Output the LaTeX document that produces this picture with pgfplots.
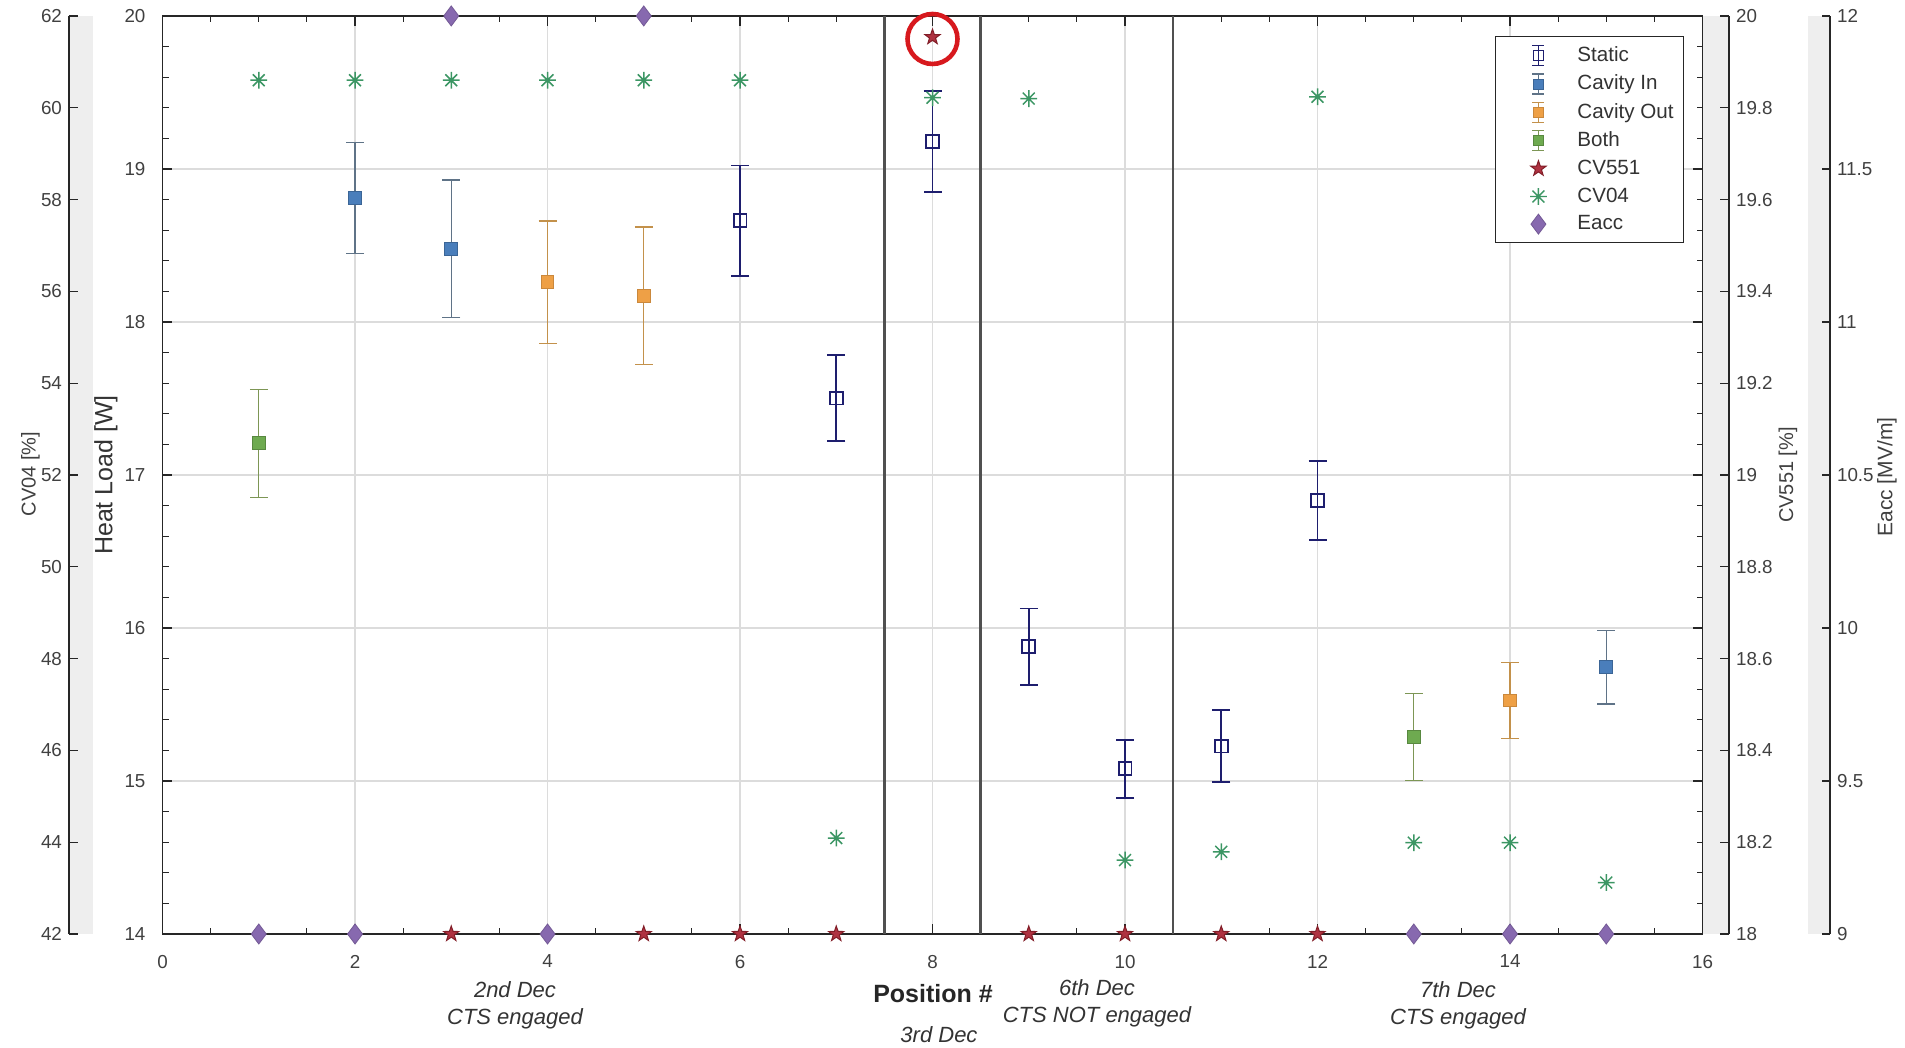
\documentclass[border=0pt]{standalone}
\usepackage{pgfplots}
\pgfplotsset{compat=1.18}
\usepackage{pgfplotstable}
\usepackage{fontspec}
\setmainfont{Liberation Sans}

\definecolor{cstatic}{RGB}{30,30,110}
\definecolor{cin}{RGB}{74,126,187}
\definecolor{cinE}{RGB}{95,115,135}
\definecolor{cout}{RGB}{238,160,70}
\definecolor{coutE}{RGB}{195,145,75}
\definecolor{cboth}{RGB}{110,170,80}
\definecolor{cbothE}{RGB}{125,150,85}
\definecolor{cvA}{RGB}{175,50,65}
\definecolor{cvAd}{RGB}{130,30,40}
\definecolor{cvB}{RGB}{60,150,100}
\definecolor{ceacc}{RGB}{135,105,175}
\definecolor{band}{RGB}{238,238,238}
\definecolor{gridc}{RGB}{220,220,220}
\definecolor{sepc}{RGB}{80,80,80}
\definecolor{circ}{RGB}{215,25,30}

\pgfdeclareplotmark{pentagram}{%
  \pgfpathmoveto{\pgfpointpolar{90}{\pgfplotmarksize}}%
  \pgfpathlineto{\pgfpointpolar{126}{0.4\pgfplotmarksize}}%
  \pgfpathlineto{\pgfpointpolar{162}{\pgfplotmarksize}}%
  \pgfpathlineto{\pgfpointpolar{198}{0.4\pgfplotmarksize}}%
  \pgfpathlineto{\pgfpointpolar{234}{\pgfplotmarksize}}%
  \pgfpathlineto{\pgfpointpolar{270}{0.4\pgfplotmarksize}}%
  \pgfpathlineto{\pgfpointpolar{306}{\pgfplotmarksize}}%
  \pgfpathlineto{\pgfpointpolar{342}{0.4\pgfplotmarksize}}%
  \pgfpathlineto{\pgfpointpolar{18}{\pgfplotmarksize}}%
  \pgfpathlineto{\pgfpointpolar{54}{0.4\pgfplotmarksize}}%
  \pgfpathclose
  \pgfusepathqfillstroke}
\pgfdeclareplotmark{ast8}{%
  \pgfpathmoveto{\pgfqpoint{0pt}{\pgfplotmarksize}}\pgfpathlineto{\pgfqpoint{0pt}{-\pgfplotmarksize}}%
  \pgfpathmoveto{\pgfqpoint{\pgfplotmarksize}{0pt}}\pgfpathlineto{\pgfqpoint{-\pgfplotmarksize}{0pt}}%
  \pgfpathmoveto{\pgfqpoint{.707\pgfplotmarksize}{.707\pgfplotmarksize}}\pgfpathlineto{\pgfqpoint{-.707\pgfplotmarksize}{-.707\pgfplotmarksize}}%
  \pgfpathmoveto{\pgfqpoint{-.707\pgfplotmarksize}{.707\pgfplotmarksize}}\pgfpathlineto{\pgfqpoint{.707\pgfplotmarksize}{-.707\pgfplotmarksize}}%
  \pgfusepathqstroke}

\pgfplotsset{
  ebleg/.style 2 args={legend image code/.code={%
    \path (-0.13cm,0cm) (1.1cm,0cm);
    \draw[#1, line width=#2] (0.5cm,-5pt) -- (0.5cm,5pt)
       (0.5cm-3pt,-5pt) -- (0.5cm+3pt,-5pt)
       (0.5cm-3pt,5pt) -- (0.5cm+3pt,5pt);
    \draw[##1] plot coordinates {(0.5cm,0cm)};}},
  mkleg/.style={legend image code/.code={%
    \path (-0.13cm,0cm) (1.1cm,0cm);
    \draw[##1] plot coordinates {(0.5cm,0cm)};}},
  tl/.style={font=\fontsize{9.4}{10}\selectfont, text=black!75},
  full/.style={scale only axis, at={(0pt,0pt)}, anchor=south west,
    width=770pt, height=459pt, xmin=0, xmax=16},
}

\pgfplotstableread{
x y e
6 18.663 0.36
7 17.502 0.28
8 19.18 0.33
9 15.878 0.25
10 15.08 0.19
11 15.228 0.237
12 16.833 0.258
}\staticdata
\pgfplotstableread{
x y e
2 18.811 0.364
3 18.478 0.45
15 15.743 0.24
}\cavindata
\pgfplotstableread{
x y e
4 18.261 0.40
5 18.170 0.45
14 15.526 0.25
}\cavoutdata
\pgfplotstableread{
x y e
1 17.207 0.353
13 15.287 0.283
}\bothdata
\pgfplotstableread{
x y
3 18
5 18
6 18
7 18
8 19.954
9 18
10 18
11 18
12 18
}\cvfivedata
\pgfplotstableread{
x y
1 60.6
2 60.6
3 60.6
4 60.6
5 60.6
6 60.6
7 44.09
8 60.22
9 60.2
10 43.61
11 43.79
12 60.24
13 43.99
14 43.99
15 43.12
}\cvfourdata
\pgfplotstableread{
x y
1 9
2 9
3 12
4 9
5 12
13 9
14 9
15 9
}\eaccdata

\begin{document}
\begin{tikzpicture}
\useasboundingbox (-81.25pt,-57pt) rectangle (871.25pt,467pt);

% main heat-load axis
\begin{axis}[full, ymin=14, ymax=20,
  xtick={0,2,...,16}, ytick={14,15,...,20},
  minor x tick num=3, minor y tick num=4,
  grid=major, major grid style={gridc, line width=0.55pt},
  tick align=inside, major tick length=5pt, minor tick length=3pt,
  tick style={black!85, line width=0.6pt},
  axis line style={black!85, line width=0.9pt},
  /pgf/number format/assume math mode=true,
  xticklabel style={tl, yshift=-7pt},
  yticklabel style={tl, xshift=-5pt},
  ]
\addplot[sepc, line width=1.3pt, forget plot] coordinates {(7.5,14) (7.5,20)};
\addplot[sepc, line width=1.3pt, forget plot] coordinates {(8.5,14) (8.5,20)};
\addplot[sepc, line width=1.3pt, forget plot] coordinates {(10.5,14) (10.5,20)};

\addplot[only marks, mark=square, mark size=3.2pt, cstatic, line width=0.9pt,
  error bars/.cd, y dir=both, y explicit,
  error bar style={cstatic, line width=0.9pt},
  error mark options={rotate=90, cstatic, line width=0.9pt, mark size=4.5pt}]
  table[x=x, y=y, y error=e] {\staticdata};
\addplot[only marks, mark=square*, mark size=3.2pt, cinE, line width=0.5pt,
  mark options={fill=cin, draw=cin!80!black},
  error bars/.cd, y dir=both, y explicit,
  error bar style={cinE, line width=0.65pt},
  error mark options={rotate=90, cinE, line width=0.65pt, mark size=4.5pt}]
  table[x=x, y=y, y error=e] {\cavindata};
\addplot[only marks, mark=square*, mark size=3.2pt, coutE, line width=0.5pt,
  mark options={fill=cout, draw=cout!85!black},
  error bars/.cd, y dir=both, y explicit,
  error bar style={coutE, line width=0.65pt},
  error mark options={rotate=90, coutE, line width=0.65pt, mark size=4.5pt}]
  table[x=x, y=y, y error=e] {\cavoutdata};
\addplot[only marks, mark=square*, mark size=3.2pt, cbothE, line width=0.5pt,
  mark options={fill=cboth, draw=cboth!80!black},
  error bars/.cd, y dir=both, y explicit,
  error bar style={cbothE, line width=0.65pt},
  error mark options={rotate=90, cbothE, line width=0.65pt, mark size=4.5pt}]
  table[x=x, y=y, y error=e] {\bothdata};
\end{axis}

% CV551 overlay
\begin{axis}[full, ymin=18, ymax=20, hide axis]
\addplot[only marks, mark=pentagram, mark size=4pt, cvAd, line width=0.5pt,
  mark options={fill=cvA}] table[x=x, y=y] {\cvfivedata};
\end{axis}

% CV04 overlay
\begin{axis}[full, ymin=42, ymax=62, hide axis]
\addplot[only marks, mark=ast8, mark size=4.2pt, cvB, line width=0.75pt]
  table[x=x, y=y] {\cvfourdata};
\end{axis}

% Eacc overlay + legend
\begin{axis}[full, ymin=9, ymax=12, hide axis,
  legend style={at={(0.988,0.978)}, anchor=north east, draw=black!85,
    line width=0.5pt, fill=white, font=\fontsize{10.3}{12}\selectfont,
    text=black!80, row sep=1.2pt, inner xsep=3pt, inner ysep=3pt},
  legend cell align=left]
\addlegendimage{only marks, mark=square, mark size=2.5pt, cstatic, line width=0.8pt, ebleg={cstatic}{0.8pt}}
\addlegendentry{Static}
\addlegendimage{only marks, mark=square*, mark size=2.5pt, line width=0.4pt, mark options={fill=cin, draw=cin!80!black}, ebleg={cinE}{0.55pt}}
\addlegendentry{Cavity In}
\addlegendimage{only marks, mark=square*, mark size=2.5pt, line width=0.4pt, mark options={fill=cout, draw=cout!85!black}, ebleg={coutE}{0.55pt}}
\addlegendentry{Cavity Out}
\addlegendimage{only marks, mark=square*, mark size=2.5pt, line width=0.4pt, mark options={fill=cboth, draw=cboth!80!black}, ebleg={cbothE}{0.55pt}}
\addlegendentry{Both}
\addlegendimage{only marks, mark=pentagram, mark size=4pt, cvAd, line width=0.5pt, mark options={fill=cvA}, mkleg}
\addlegendentry{CV551}
\addlegendimage{only marks, mark=ast8, mark size=4.2pt, cvB, line width=0.7pt, mkleg}
\addlegendentry{CV04}
\addplot[only marks, mark=diamond*, mark size=5pt, ceacc, line width=0.4pt,
  mark options={fill=ceacc, draw=ceacc!85!black}, mkleg] table[x=x, y=y] {\eaccdata};
\addlegendentry{Eacc}
\end{axis}

% CV04 scale (left)
\begin{axis}[scale only axis, at={(-46.75pt,0pt)}, anchor=south west,
  width=12.15pt, height=459pt, xmin=0, xmax=1, ymin=42, ymax=62,
  ytick={42,44,...,62}, hide x axis, axis y line*=left,
  axis background/.style={fill=band, draw=none},
  tick align=inside, major tick length=4.5pt,
  ytick style={black!85, line width=0.6pt},
  axis line style={black!85, line width=0.9pt},
  /pgf/number format/assume math mode=true, yticklabel style={tl}]
\end{axis}

% CV551 scale (right)
\begin{axis}[scale only axis, at={(770pt,0pt)}, anchor=south west,
  width=13.25pt, height=459pt, xmin=0, xmax=1, ymin=18, ymax=20,
  ytick={18,18.2,18.4,18.6,18.8,19,19.2,19.4,19.6,19.8,20},
  hide x axis, axis y line*=right,
  axis background/.style={fill=band, draw=none},
  tick align=inside, major tick length=4.5pt,
  ytick style={black!85, line width=0.6pt},
  axis line style={black!85, line width=0.9pt},
  /pgf/number format/.cd, fixed, precision=1, assume math mode=true,
  /pgfplots/.cd, yticklabel style={tl}]
\end{axis}

% Eacc scale (right)
\begin{axis}[scale only axis, at={(822.75pt,0pt)}, anchor=south west,
  width=11pt, height=459pt, xmin=0, xmax=1, ymin=9, ymax=12,
  ytick={9,9.5,10,10.5,11,11.5,12},
  hide x axis, axis y line*=right,
  axis background/.style={fill=band, draw=none},
  tick align=inside, major tick length=4pt,
  ytick style={black!85, line width=0.6pt},
  axis line style={black!85, line width=0.9pt},
  /pgf/number format/.cd, fixed, precision=1, assume math mode=true,
  /pgfplots/.cd, yticklabel style={tl}]
\end{axis}

% annotation circle
\draw[circ, line width=2.3pt] (385pt,447.5pt) circle[radius=12.5pt];

% labels
\node[rotate=90, font=\fontsize{12.5}{14}\selectfont, text=black!80] at (-28.25pt,229.5pt) {Heat Load [W]};
\node[rotate=90, font=\fontsize{10}{12}\selectfont, text=black!75] at (-66pt,230pt) {CV04 [\%]};
\node[rotate=90, font=\fontsize{10}{12}\selectfont, text=black!75] at (812.75pt,229.5pt) {CV551 [\%]};
\node[rotate=90, font=\fontsize{10.5}{12}\selectfont, text=black!75] at (862.25pt,228.5pt) {Eacc [MV/m]};
\node[font=\bfseries\fontsize{12.5}{14}\selectfont, text=black!85] at (385.25pt,-30pt) {Position \#};
\begin{scope}[every node/.style={font=\itshape\fontsize{11}{13}\selectfont, text=black!80}]
\node at (176.25pt,-28pt) {2nd Dec};
\node at (176.25pt,-42.5pt) {CTS engaged};
\node at (388.25pt,-50.5pt) {3rd Dec};
\node at (467.25pt,-27pt) {6th Dec};
\node at (467.25pt,-41.5pt) {CTS NOT engaged};
\node at (647.75pt,-28pt) {7th Dec};
\node at (647.75pt,-42.5pt) {CTS engaged};
\end{scope}
\end{tikzpicture}
\end{document}
